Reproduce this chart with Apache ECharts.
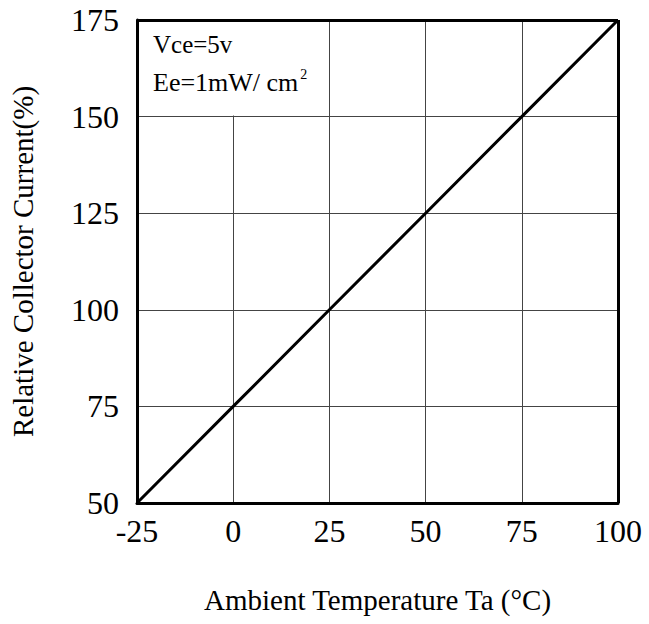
<!DOCTYPE html>
<html>
<head>
<meta charset="utf-8">
<script src="https://cdn.jsdelivr.net/npm/echarts@6/dist/echarts.min.js"></script>
<style>
  html, body { margin: 0; padding: 0; background: #fff; }
  #myChart { width: 649px; height: 624px; }
</style>
</head>
<body>
<div id="myChart"></div>
<script>
// ambient temperature (°C) vs relative collector current (%)
const tempData = [-25, 0, 25, 50, 75, 100]
const currentData = [50, 75, 100, 125, 150, 175]
const xTicks = [-25, 100, 25]   // min, max, interval
const yTicks = [50, 175, 25]
// cell that holds the test conditions
const noteCell = [[-25, 175], [0, 150]]

const serif = 'Liberation Serif'
const chart = echarts.init(document.getElementById('myChart'), null, { renderer: 'svg' })

const option = {
  animation: false,
  backgroundColor: '#fff',
  grid: { left: 137, right: 31, top: 20, bottom: 121, outerBoundsMode: 'none' },
  xAxis: {
    type: 'value',
    min: xTicks[0],
    max: xTicks[1],
    interval: xTicks[2],
    name: 'Ambient Temperature Ta (°C)',
    nameLocation: 'middle',
    nameGap: 82,
    nameTextStyle: { fontFamily: serif, fontSize: 29, color: '#000' },
    axisLine: { show: true, onZero: false, lineStyle: { color: '#000', width: 3 } },
    axisTick: { show: false },
    axisLabel: { fontFamily: serif, fontSize: 32, color: '#000', margin: 12 },
    splitLine: { show: true, lineStyle: { color: '#444', width: 1 } }
  },
  yAxis: {
    type: 'value',
    min: yTicks[0],
    max: yTicks[1],
    interval: yTicks[2],
    name: 'Relative Collector Current(%)',
    nameLocation: 'middle',
    nameGap: 100,
    nameTextStyle: { fontFamily: serif, fontSize: 29, color: '#000' },
    axisLine: { show: true, onZero: false, lineStyle: { color: '#000', width: 3 } },
    axisTick: { show: false },
    axisLabel: { fontFamily: serif, fontSize: 32, color: '#000', margin: 18 },
    splitLine: { show: true, lineStyle: { color: '#444', width: 1 } }
  },
  series: [
    {
      type: 'line',
      data: tempData.map((t, i) => [t, currentData[i]]),
      symbol: 'none',
      lineStyle: { color: '#000', width: 3 },
      z: 5
    },
    {
      // top and right border of the plot box
      type: 'line',
      data: [],
      markLine: {
        silent: true,
        symbol: 'none',
        label: { show: false },
        lineStyle: { color: '#000', width: 3, type: 'solid' },
        data: [{ yAxis: yTicks[1] }, { xAxis: xTicks[1] }]
      }
    }
  ]
}

chart.setOption(option)

// white box over the top-left cell, sized from the axes (hides the x=0 grid line there)
const p1 = chart.convertToPixel({ gridIndex: 0 }, noteCell[0])
const p2 = chart.convertToPixel({ gridIndex: 0 }, noteCell[1])
chart.setOption({
  graphic: [
    {
      type: 'rect',
      z: 3,
      silent: true,
      shape: { x: p1[0] + 2, y: p1[1] + 2, width: p2[0] - p1[0], height: p2[1] - p1[1] - 3 },
      style: { fill: '#fff' }
    },
    {
      type: 'text',
      left: 153,
      top: 32,
      z: 10,
      style: { text: 'Vce=5v', font: '25px "Liberation Serif"', fill: '#000' }
    },
    {
      type: 'text',
      left: 153,
      top: 67,
      z: 10,
      style: {
        text: 'Ee=1mW/ cm{s|2}',
        font: '26px "Liberation Serif"',
        fill: '#000',
        rich: { s: { fontSize: 14, verticalAlign: 'top', padding: [0, 0, 16, 2], fontFamily: serif } }
      }
    }
  ]
})
</script>
</body>
</html>
